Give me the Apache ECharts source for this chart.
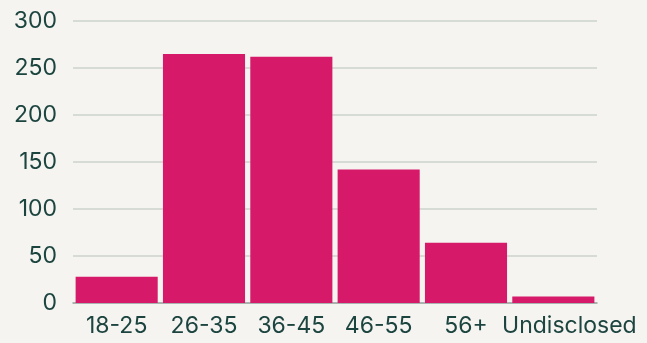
<!DOCTYPE html>
<html>
<head>
<meta charset="utf-8">
<script src="https://cdn.jsdelivr.net/npm/echarts@6/dist/echarts.min.js"></script>
<style>
  html, body { margin: 0; padding: 0; background: #f5f4f0; }
  #main { width: 647px; height: 343px; }
</style>
</head>
<body>
<div id="main"></div>
<script>
    var categories = ['18-25', '26-35', '36-45', '46-55', '56+', 'Undisclosed'];
    var counts = [28, 265, 262, 142, 64, 7];
    var yTicks = [0, 50, 100, 150, 200, 250, 300];

    var myChart = echarts.init(document.getElementById('main'));
    var textColor = '#1d4540';
    // 最后一个标签在原图中略向右偏
    var catData = categories.map(function (c, i) {
        if (i === categories.length - 1) {
            return { value: c, textStyle: { padding: [0, 0, 0, 32] } };
        }
        return c;
    });
    var option = {
        backgroundColor: '#f5f4f0',
        animation: false,
        grid: { left: 73, right: 50, top: 21, bottom: 40 },
        xAxis: {
            type: 'category',
            data: catData,
            axisTick: { show: false },
            axisLine: { lineStyle: { color: '#9aa8a4', width: 1.5 } },
            axisLabel: { color: textColor, fontSize: 23, fontFamily: 'Inter', margin: 12, interval: 0 }
        },
        yAxis: {
            type: 'value',
            min: yTicks[0],
            max: yTicks[yTicks.length - 1],
            interval: 50,
            axisLabel: { color: textColor, fontSize: 23, fontFamily: 'Inter', margin: 16 },
            splitLine: { lineStyle: { color: '#cdd3ce', width: 1.5 } }
        },
        series: [{
            type: 'bar',
            data: counts,
            barCategoryGap: '6%',
            itemStyle: { color: '#d61a69' }
        }]
    };
    myChart.setOption(option);
</script>
</body>
</html>
